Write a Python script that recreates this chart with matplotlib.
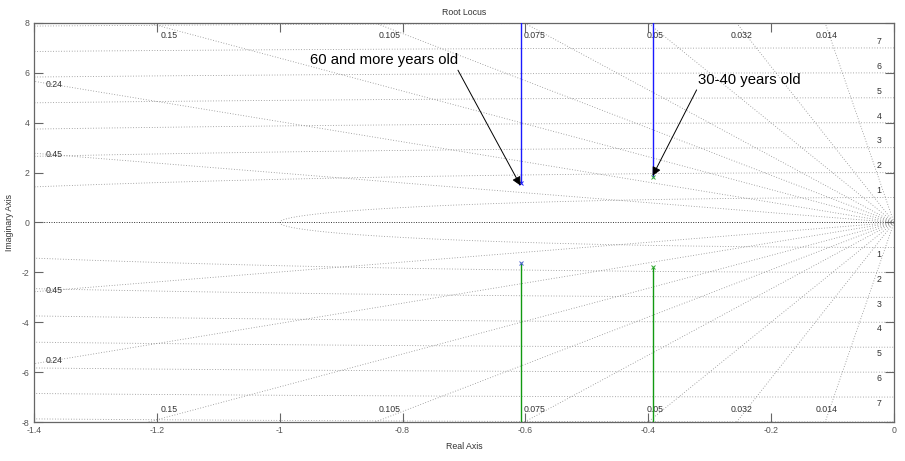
import numpy as np
import matplotlib
matplotlib.use("Agg")
import matplotlib.pyplot as plt

# ---- data ----
zeta = [0.014, 0.032, 0.05, 0.075, 0.105, 0.15, 0.24, 0.45]
top_z = [0.15, 0.105, 0.075, 0.05, 0.032, 0.014]
zeta_top_labels = ["0.15", "0.105", "0.075", "0.05", "0.032", "0.014"]
left_z = [0.24, 0.45]
zeta_left_labels = ["0.24", "0.45"]
wn = [1, 2, 3, 4, 5, 6, 7, 8]
pole_re = [-0.608, -0.608, -0.393, -0.393]
pole_im = [1.58, -1.63, 1.82, -1.80]
branch_colors = ["#1a1aff", "#119911", "#1a1aff", "#119911"]
marker_colors = ["#1a1aff", "#4a60d0", "#33aa33", "#33aa33"]
annot_texts = ["60 and more years old", "30-40 years old"]
xticks = [-1.4, -1.2, -1.0, -0.8, -0.6, -0.4, -0.2, 0]
xticklabels = ["-1.4", "-1.2", "-1", "-0.8", "-0.6", "-0.4", "-0.2", "0"]
yticks = [-8, -6, -4, -2, 0, 2, 4, 6, 8]

XMIN, XMAX, YMIN, YMAX = -1.4, 0.0, -8.0, 8.0

plt.rcParams['font.family'] = ['Liberation Sans', 'DejaVu Sans']
fig = plt.figure(figsize=(9.05, 4.61), dpi=100)
ax = fig.add_axes([34/905, 39/461, 860/905, 399/461])
ax.set_xlim(XMIN, XMAX)
ax.set_ylim(YMIN, YMAX)

gcol = "#8a8a8a"
dots = (0, (1, 2.2))

# zeta (damping) lines
R = 40
for z in zeta:
    s = np.sqrt(1 - z**2)
    for sg in (1, -1):
        ax.plot([0, -R*z], [0, sg*R*s], color=gcol, lw=0.6, ls=dots, zorder=1)

# wn circles
th = np.linspace(np.pi/2, 3*np.pi/2, 1200)
for w in wn:
    ax.plot(w*np.cos(th), w*np.sin(th), color=gcol, lw=0.6, ls=dots, zorder=1)

# real axis
ax.plot([XMIN, XMAX], [0, 0], color="#333333", lw=0.7, ls=(0, (1, 1.5)), zorder=1)

lab_fs = 6.3
# zeta labels on top/bottom edge
for z, lab in zip(top_z, zeta_top_labels):
    s = np.sqrt(1 - z**2)
    hx = -YMAX * z / s
    for sg in (1, -1):
        ax.text(0.972*hx, sg*7.5, lab, fontsize=lab_fs, color="#333333",
                ha="center", va="center", clip_on=True)
# zeta labels on left edge
for z, lab in zip(left_z, zeta_left_labels):
    s = np.sqrt(1 - z**2)
    hy = -XMIN * s / z
    for sg in (1, -1):
        ax.text(-1.367, sg*0.98*hy, lab, fontsize=lab_fs, color="#333333",
                ha="center", va="center", clip_on=True)

# wn labels at right
for w in wn:
    for sg in (1, -1):
        ax.text(-0.0245, sg*(w + 0.27), str(w), fontsize=lab_fs, color="#333333",
                ha="center", va="center", clip_on=True)

# root locus branches
for re, im, c, mc in zip(pole_re, pole_im, branch_colors, marker_colors):
    end = YMAX if im > 0 else YMIN
    ax.plot([re, re], [im, end*1.2], color=c, lw=1.0, zorder=3)
    ax.plot([re], [im], marker="x", ms=3.5, mew=0.7, color=mc, ls="none", zorder=4)

# annotations
ax.annotate(annot_texts[0], xy=(pole_re[0], pole_im[0] - 0.1), xytext=(-0.951, 6.5),
            fontsize=10.7, ha="left", va="center", color="black",
            arrowprops=dict(arrowstyle="-|>", color="black", lw=0.7,
                            mutation_scale=13, shrinkA=0, shrinkB=0,
                            relpos=(0.99, 0.0)), zorder=5)
ax.annotate(annot_texts[1], xy=(pole_re[2], pole_im[2] + 0.05), xytext=(-0.319, 5.71),
            fontsize=10.7, ha="left", va="center", color="black",
            arrowprops=dict(arrowstyle="-|>", color="black", lw=0.7,
                            mutation_scale=13, shrinkA=0, shrinkB=0,
                            relpos=(0.0, 0.0)), zorder=5)

# axes styling
ax.set_xticks(xticks)
ax.set_yticks(yticks)
ax.set_xticklabels(xticklabels)
ax.set_yticklabels([str(v) for v in yticks])
ax.tick_params(direction="in", length=6.5, width=0.8, color="#666666",
               labelsize=6.3, labelcolor="#555555", top=True, right=True, pad=3)
for sp in ax.spines.values():
    sp.set_color("#666666")
    sp.set_linewidth(0.9)
ax.set_title("Root Locus", fontsize=6.3, color="#333333", pad=6)
ax.set_xlabel("Real Axis", fontsize=6.3, color="#333333", labelpad=5)
ax.set_ylabel("Imaginary Axis", fontsize=6.3, color="#333333", labelpad=6)

fig.savefig("out.png", dpi=100)
